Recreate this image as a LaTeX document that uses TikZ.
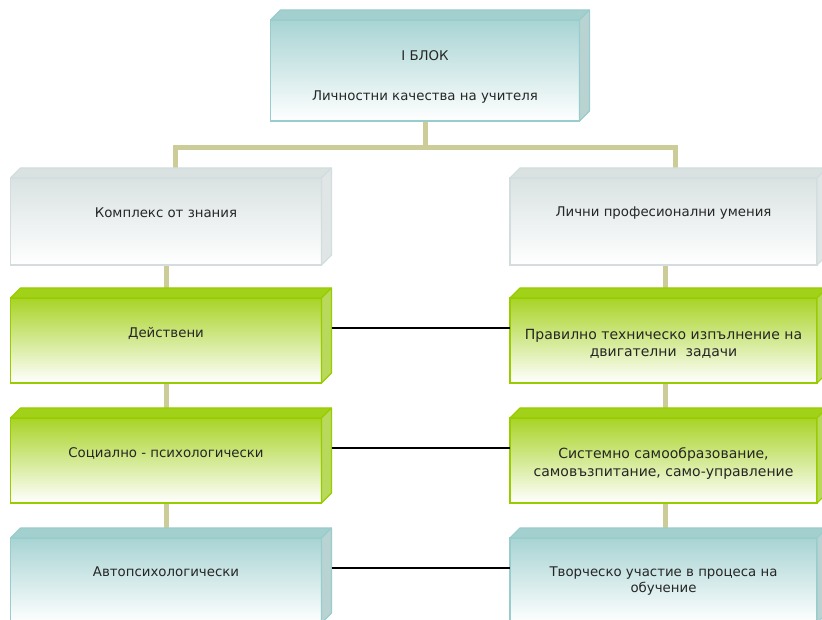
\documentclass[tikz,border=0pt]{standalone}
\usepackage{fontspec}
\setmainfont{DejaVu Sans}
\usetikzlibrary{calc}
\definecolor{tealc}{HTML}{99CCCC}
\definecolor{tealtop}{HTML}{A3D0CF}
\definecolor{tealside}{HTML}{B9D3D3}
\definecolor{greenc}{HTML}{99CC00}
\definecolor{greentop}{HTML}{A2D11A}
\definecolor{greenside}{HTML}{B9D95C}
\definecolor{grayc}{HTML}{D3DDDD}
\definecolor{graytop}{HTML}{D9E1E1}
\definecolor{grayside}{HTML}{E0E6E6}
\definecolor{tanc}{HTML}{CCCC99}
\pgfdeclarelayer{bg}
\pgfsetlayers{bg,main}
\tikzset{
  x=0.75pt, y=-0.75pt,
  front/.style={draw=#1c, line width=1.1pt, top color=#1c!85!white, bottom color=white,
    shading angle=0, inner sep=0pt, outer sep=0pt, rectangle},
  tanline/.style={draw=tanc, line width=3.75pt, line join=miter},
  blkline/.style={draw=black, line width=1.1pt},
  lbl/.style={font=\fontsize{10}{12}\selectfont, text=black!85, align=center, inner sep=0pt},
  lblbig/.style={font=\fontsize{10.5}{12.8}\selectfont, text=black!85, align=center, inner sep=0pt},
}
% name, cx, cy, width, height, colour prefix
\newcommand{\boxthree}[6]{%
  \node[front=#6, minimum width={#4*0.75pt}, minimum height={#5*0.75pt}] (#1) at (#2,#3) {};
  \fill[#6top, draw=#6c, line width=0.8pt, line join=round] (#1.north west) -- ++(10,-10) -- ($(#1.north east)+(10,-10)$) -- (#1.north east) -- cycle;
  \fill[#6side, draw=#6c, line width=0.8pt, line join=round] (#1.north east) -- ++(10,-10) -- ($(#1.south east)+(10,-10)$) -- (#1.south east) -- cycle;
}
\begin{document}
\begin{tikzpicture}
\useasboundingbox (0,0) rectangle (822,620);
\clip (0,0) rectangle (822,620);

% boxes
\boxthree{top}{425}{70.5}{309}{101}{teal}
\boxthree{k1}{166}{221.5}{311}{87}{gray}
\boxthree{g1}{166}{340.5}{311}{85}{green}
\boxthree{g2}{166}{460.5}{311}{85}{green}
\boxthree{a1}{166}{580.5}{311}{85}{teal}
\boxthree{k2}{663.5}{221.5}{307}{87}{gray}
\boxthree{r1}{663.5}{340.5}{307}{85}{green}
\boxthree{r2}{663.5}{460.5}{307}{85}{green}
\boxthree{r3}{663.5}{580.5}{307}{85}{teal}

% texts
\node[lbl] (toptA) at (425,56) {I БЛОК};
\node[lbl] (toptB) at (425,97) {Личностни качества на учителя};
\node[lbl] (tk1) at (166,213) {Комплекс от знания};
\node[lbl] (tg1) at (166,333) {Действени};
\node[lbl] (tg2) at (166,453) {Социално - психологически};
\node[lbl] (ta1) at (166,572) {Автопсихологически};
\node[lbl] (tk2) at (663.5,213) {Лични професионални умения};
\node[lblbig] (tr1) at (663.5,343.5) {Правилно техническо изпълнение на\\двигателни\ \ задачи};
\node[lblbig] (tr2) at (663.5,463.5) {Системно самообразование,\\самовъзпитание, само-управление};
\node[lbl] (tr3) at (663.5,581.5) {Творческо участие в процеса на\\обучение};

% connectors
\begin{pgfonlayer}{bg}
  \fill[white] (0,0) rectangle (822,620);
  \coordinate (bar) at ($(top.south)+(0,27)$);
  \draw[tanline] (top.south) -- (bar);
  \draw[tanline] ($(k1.north)+(9,-5)$) |- (bar) -| ($(k2.north)+(11.5,-5)$);
  \draw[tanline] (k1) -- (g1);
  \draw[tanline] (g1) -- (g2);
  \draw[tanline] (g2) -- (a1);
  \draw[tanline] ($(k2)+(1.5,0)$) -- ($(r1)+(1.5,0)$);
  \draw[tanline] ($(r1)+(1.5,0)$) -- ($(r2)+(1.5,0)$);
  \draw[tanline] ($(r2)+(1.5,0)$) -- ($(r3)+(1.5,0)$);
\end{pgfonlayer}
\draw[blkline] ($(g1.east)+(10,-12.5)$) -- ($(r1.west)+(0,-12.5)$);
\draw[blkline] ($(g2.east)+(10,-12.5)$) -- ($(r2.west)+(0,-12.5)$);
\draw[blkline] ($(a1.east)+(10,-12.5)$) -- ($(r3.west)+(0,-12.5)$);
\end{tikzpicture}
\end{document}
